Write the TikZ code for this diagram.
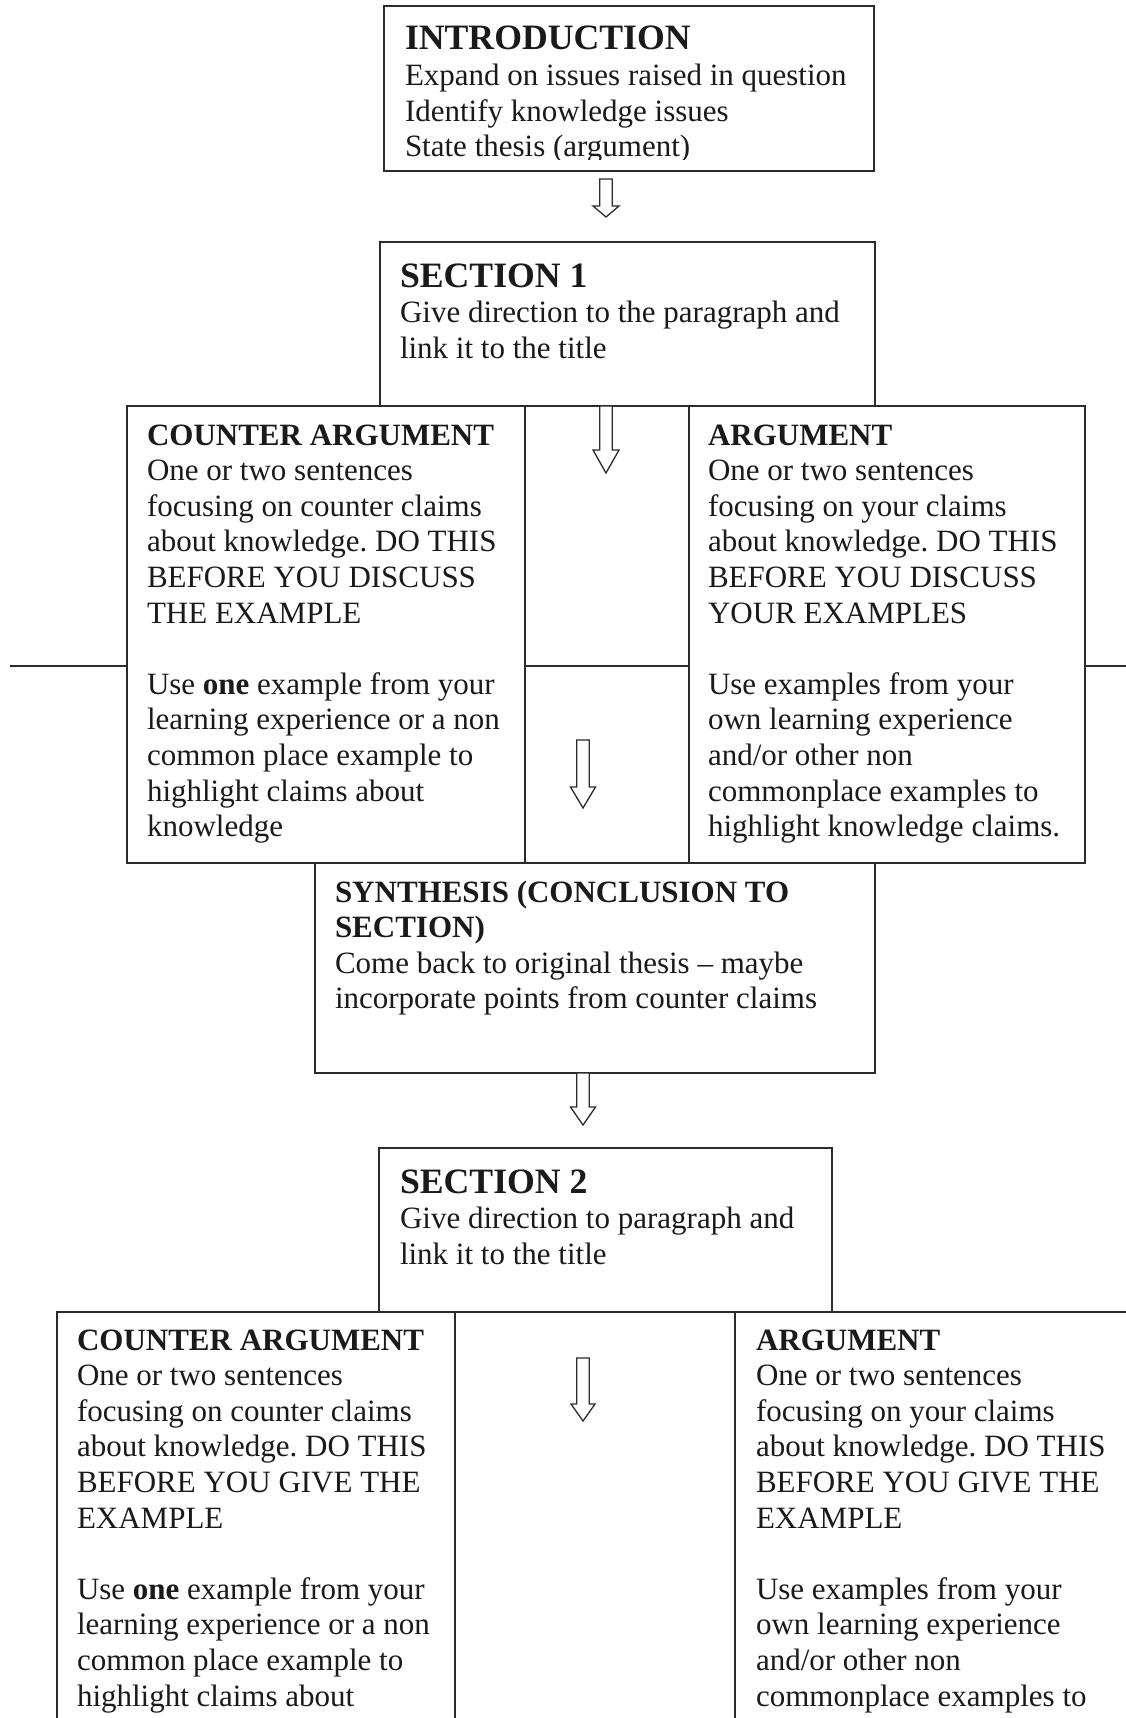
\documentclass[tikz,border=0pt]{standalone}
\usepackage{fontspec}
\setmainfont{Liberation Serif}
\frenchspacing
\definecolor{ink}{HTML}{1A1A1A}
\definecolor{edge}{HTML}{2B2B2B}
\newcommand\bigtitle{\fontsize{35.7}{35.6}\selectfont\bfseries}
\newcommand\firststrut{\rule{0pt}{30pt}}
\begin{document}
\begin{tikzpicture}[x=1pt,y=-1pt,
  box/.style={draw=edge, line width=1.9pt, anchor=north west, inner sep=0pt, outer sep=0pt},
  txt/.style={anchor=north west, inner sep=0pt, outer sep=0pt, align=left, text=ink,
              font=\fontsize{31}{35.6}\selectfont},
  divider/.style={draw=edge, line width=1.3pt},
  arrowline/.style={draw=edge, line width=1.3pt, line join=miter, fill=white},
  pics/dnarrow/.style n args={3}{code={%
    \path[arrowline] (-6.2,0) -- (-6.2,#2) -- (-#3,#2) -- (0,#1) -- (#3,#2) -- (6.2,#2) -- (6.2,0) -- cycle;}}
]
\useasboundingbox (0,0) rectangle (1126,1718);
\fill[white] (0,0) rectangle (1126,1718);
\clip (0,0) rectangle (1126,1718);

% boxes
\node[box, minimum width=490pt, minimum height=165pt] (intro) at (384,6) {};
\node[box, minimum width=495pt, minimum height=164pt] (sec1) at (380,242) {};
\node[box, minimum width=398pt, minimum height=457pt] (cnt1) at (127,406) {};
\node[box, minimum width=396pt, minimum height=457pt] (arg1) at (689,406) {};
\node[box, minimum width=560pt, minimum height=210pt] (syn) at (315,863) {};
\node[box, minimum width=453pt, minimum height=164pt] (sec2) at (379,1148) {};
\node[box, minimum width=398pt, minimum height=470pt] (cnt2) at (57,1312) {};
\node[box, minimum width=430pt, minimum height=470pt] (arg2) at (735,1312) {};

% horizontal dividers through row 1
\coordinate (hl) at (10,666);
\coordinate (hr) at (1126,666);
\draw[divider] (hl) -- (hl -| cnt1.west);
\draw[divider] (hl -| cnt1.east) -- (hl -| arg1.west);
\draw[divider] (hl -| arg1.east) -- (hr);

% block arrows
\pic at (606,179) {dnarrow={38}{27}{13}};
\pic at (606,406) {dnarrow={67}{44}{13}};
\pic at (583,740) {dnarrow={68}{47}{12.5}};
\pic at (583,1073) {dnarrow={52}{34}{12.5}};
\pic at (583,1358) {dnarrow={63}{46}{12}};

% texts
\begin{scope}
\clip (384,6) rectangle (874,159.5);
\node[txt] (introtxt) at (405,20) {\firststrut{\bigtitle INTRODUCTION}\\
Expand on issues raised in question\\
Identify knowledge issues\\
State thesis (argument)};
\end{scope}

\node[txt] (sec1txt) at (400,257) {\firststrut{\bigtitle SECTION 1}\\
Give direction to the paragraph and\\
link it to the title};

\node[txt] (cnt1txt) at (147,415) {\firststrut\textbf{COUNTER ARGUMENT}\\
One or two sentences\\
focusing on counter claims\\
about knowledge. DO THIS\\
BEFORE YOU DISCUSS\\
THE EXAMPLE\\[35.6pt]
Use \textbf{one} example from your\\
learning experience or a non\\
common place example to\\
highlight claims about\\
knowledge};

\node[txt] (arg1txt) at (708,415) {\firststrut\textbf{ARGUMENT}\\
One or two sentences\\
focusing on your claims\\
about knowledge. DO THIS\\
BEFORE YOU DISCUSS\\
YOUR EXAMPLES\\[35.6pt]
Use examples from your\\
own learning experience\\
and/or other non\\
commonplace examples to\\
highlight knowledge claims.};

\node[txt] (syntxt) at (335,872) {\firststrut\textbf{SYNTHESIS (CONCLUSION TO}\\
\textbf{SECTION)}\\
Come back to original thesis -- maybe\\
incorporate points from counter claims};

\node[txt] (sec2txt) at (400,1163) {\firststrut{\bigtitle SECTION 2}\\
Give direction to paragraph and\\
link it to the title};

\node[txt] (cnt2txt) at (77,1320) {\firststrut\textbf{COUNTER ARGUMENT}\\
One or two sentences\\
focusing on counter claims\\
about knowledge. DO THIS\\
BEFORE YOU GIVE THE\\
EXAMPLE\\[35.6pt]
Use \textbf{one} example from your\\
learning experience or a non\\
common place example to\\
highlight claims about};

\node[txt] (arg2txt) at (756,1320) {\firststrut\textbf{ARGUMENT}\\
One or two sentences\\
focusing on your claims\\
about knowledge. DO THIS\\
BEFORE YOU GIVE THE\\
EXAMPLE\\[35.6pt]
Use examples from your\\
own learning experience\\
and/or other non\\
commonplace examples to};
\end{tikzpicture}
\end{document}
